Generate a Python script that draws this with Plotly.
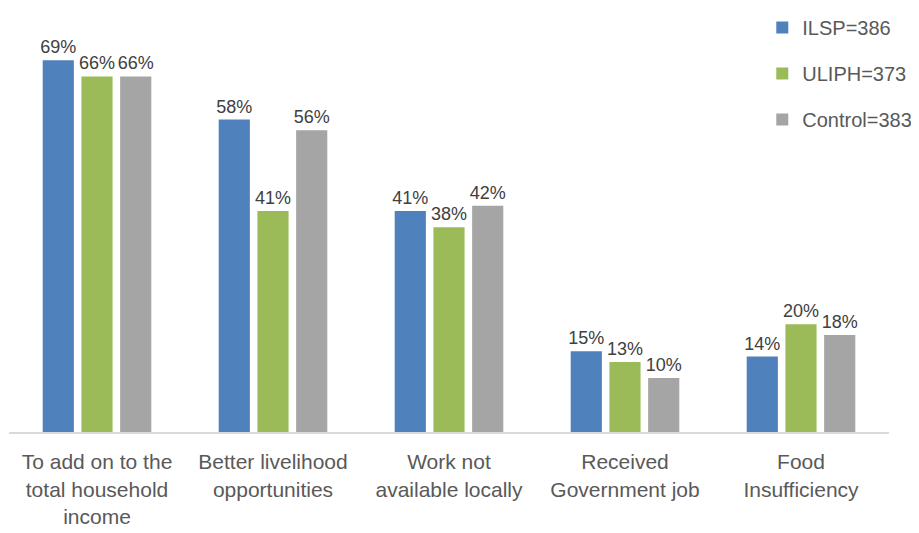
import plotly.graph_objects as go

categories = ["To add on to the<br>total household<br>income",
              "Better livelihood<br>opportunities",
              "Work not<br>available locally",
              "Received<br>Government job",
              "Food<br>Insufficiency"]
series_names = ["ILSP=386", "ULIPH=373", "Control=383"]
ilsp = [69, 58, 41, 15, 14]
uliph = [66, 41, 38, 13, 20]
control = [66, 56, 42, 10, 18]
colors = ["#4F81BD", "#9BBB59", "#A5A5A5"]

FONT = "Liberation Sans, Arial, sans-serif"

fig = go.Figure()
for i, (name, vals) in enumerate(zip(series_names, [ilsp, uliph, control])):
    fig.add_trace(go.Bar(
        x=categories, y=vals, name=name,
        marker=dict(color=colors[i], line=dict(width=0)),
        text=[f"{v}%" for v in vals], textposition="outside",
        textfont=dict(size=18, color="#404040", family=FONT),
        constraintext="none", cliponaxis=False,
        legendgroup=f"g{i}",
    ))

fig.update_layout(
    width=919, height=533,
    margin=dict(l=1, r=38, t=0, b=109),
    paper_bgcolor="white", plot_bgcolor="white",
    barmode="group", bargap=0.34, bargroupgap=0.195,
    font=dict(family=FONT, color="#595959"),
    showlegend=True,
    legend=dict(x=0.856, y=1.0, xanchor="left", yanchor="top",
                font=dict(size=20, color="#595959", family=FONT),
                tracegroupgap=17, bgcolor="rgba(0,0,0,0)"),
    xaxis=dict(showline=True, linecolor="#D9D9D9", linewidth=2,
               ticks="", tickfont=dict(size=21, color="#595959", family=FONT),
               ticklabelstandoff=10),
    yaxis=dict(range=[0, 78.7], visible=False, showgrid=False, zeroline=False),
)

fig.write_html("out.html")
